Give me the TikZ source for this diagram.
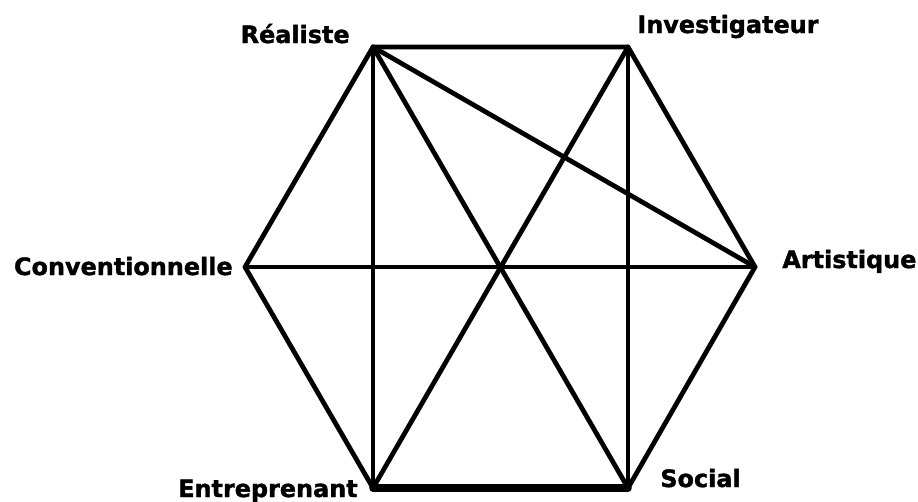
\documentclass[tikz,border=0pt]{standalone}
\usepackage{fontspec}
\newfontfamily\typefont[BoldFeatures={FakeBold=1.5}]{DejaVu Sans}
\usetikzlibrary{positioning}

\begin{document}
\begin{tikzpicture}[x=0.02cm, y=-0.02cm,
    edge/.style={line width=2.7pt, line cap=round, line join=round},
    typelabel/.style={font=\typefont\bfseries\fontsize{13.6}{16}\selectfont, inner sep=0pt}]

\useasboundingbox (0,0) rectangle (918,501);

% Corners of the hexagon
\coordinate (real) at (373,47);
\coordinate (inv)  at (628,47);
\coordinate (art)  at (755,267);
\coordinate (soc)  at (628,488);
\coordinate (ent)  at (373,488);
\coordinate (conv) at (245,267);

% Outline
\draw[edge] (real) -- (inv) -- (art) -- (soc);
\draw[edge] (ent) -- (conv) -- (real);
\draw[edge, line width=4.3pt] (soc) -- (ent);

% Diagonals
\draw[edge] (real) -- (ent);
\draw[edge] (inv) -- (soc);
\draw[edge] (real) -- (soc);
\draw[edge] (inv) -- (ent);
\draw[edge] (conv) -- (art);
\draw[edge] (real) -- (art);

% Type labels
\node[typelabel, anchor=base east]  (realL) at (350,43)  {Réaliste};
\node[typelabel, anchor=base west]  (invL)  at (637,33)  {Investigateur};
\node[typelabel, anchor=base east]  (convL) at (233,275) {Conventionnelle};
\node[typelabel, anchor=base west]  (artL)  at (782,268) {Artistique};
\node[typelabel, anchor=base east]  (entL)  at (358,497) {Entreprenant};
\node[typelabel, anchor=base west]  (socL)  at (660,487) {Social};

\end{tikzpicture}
\end{document}
